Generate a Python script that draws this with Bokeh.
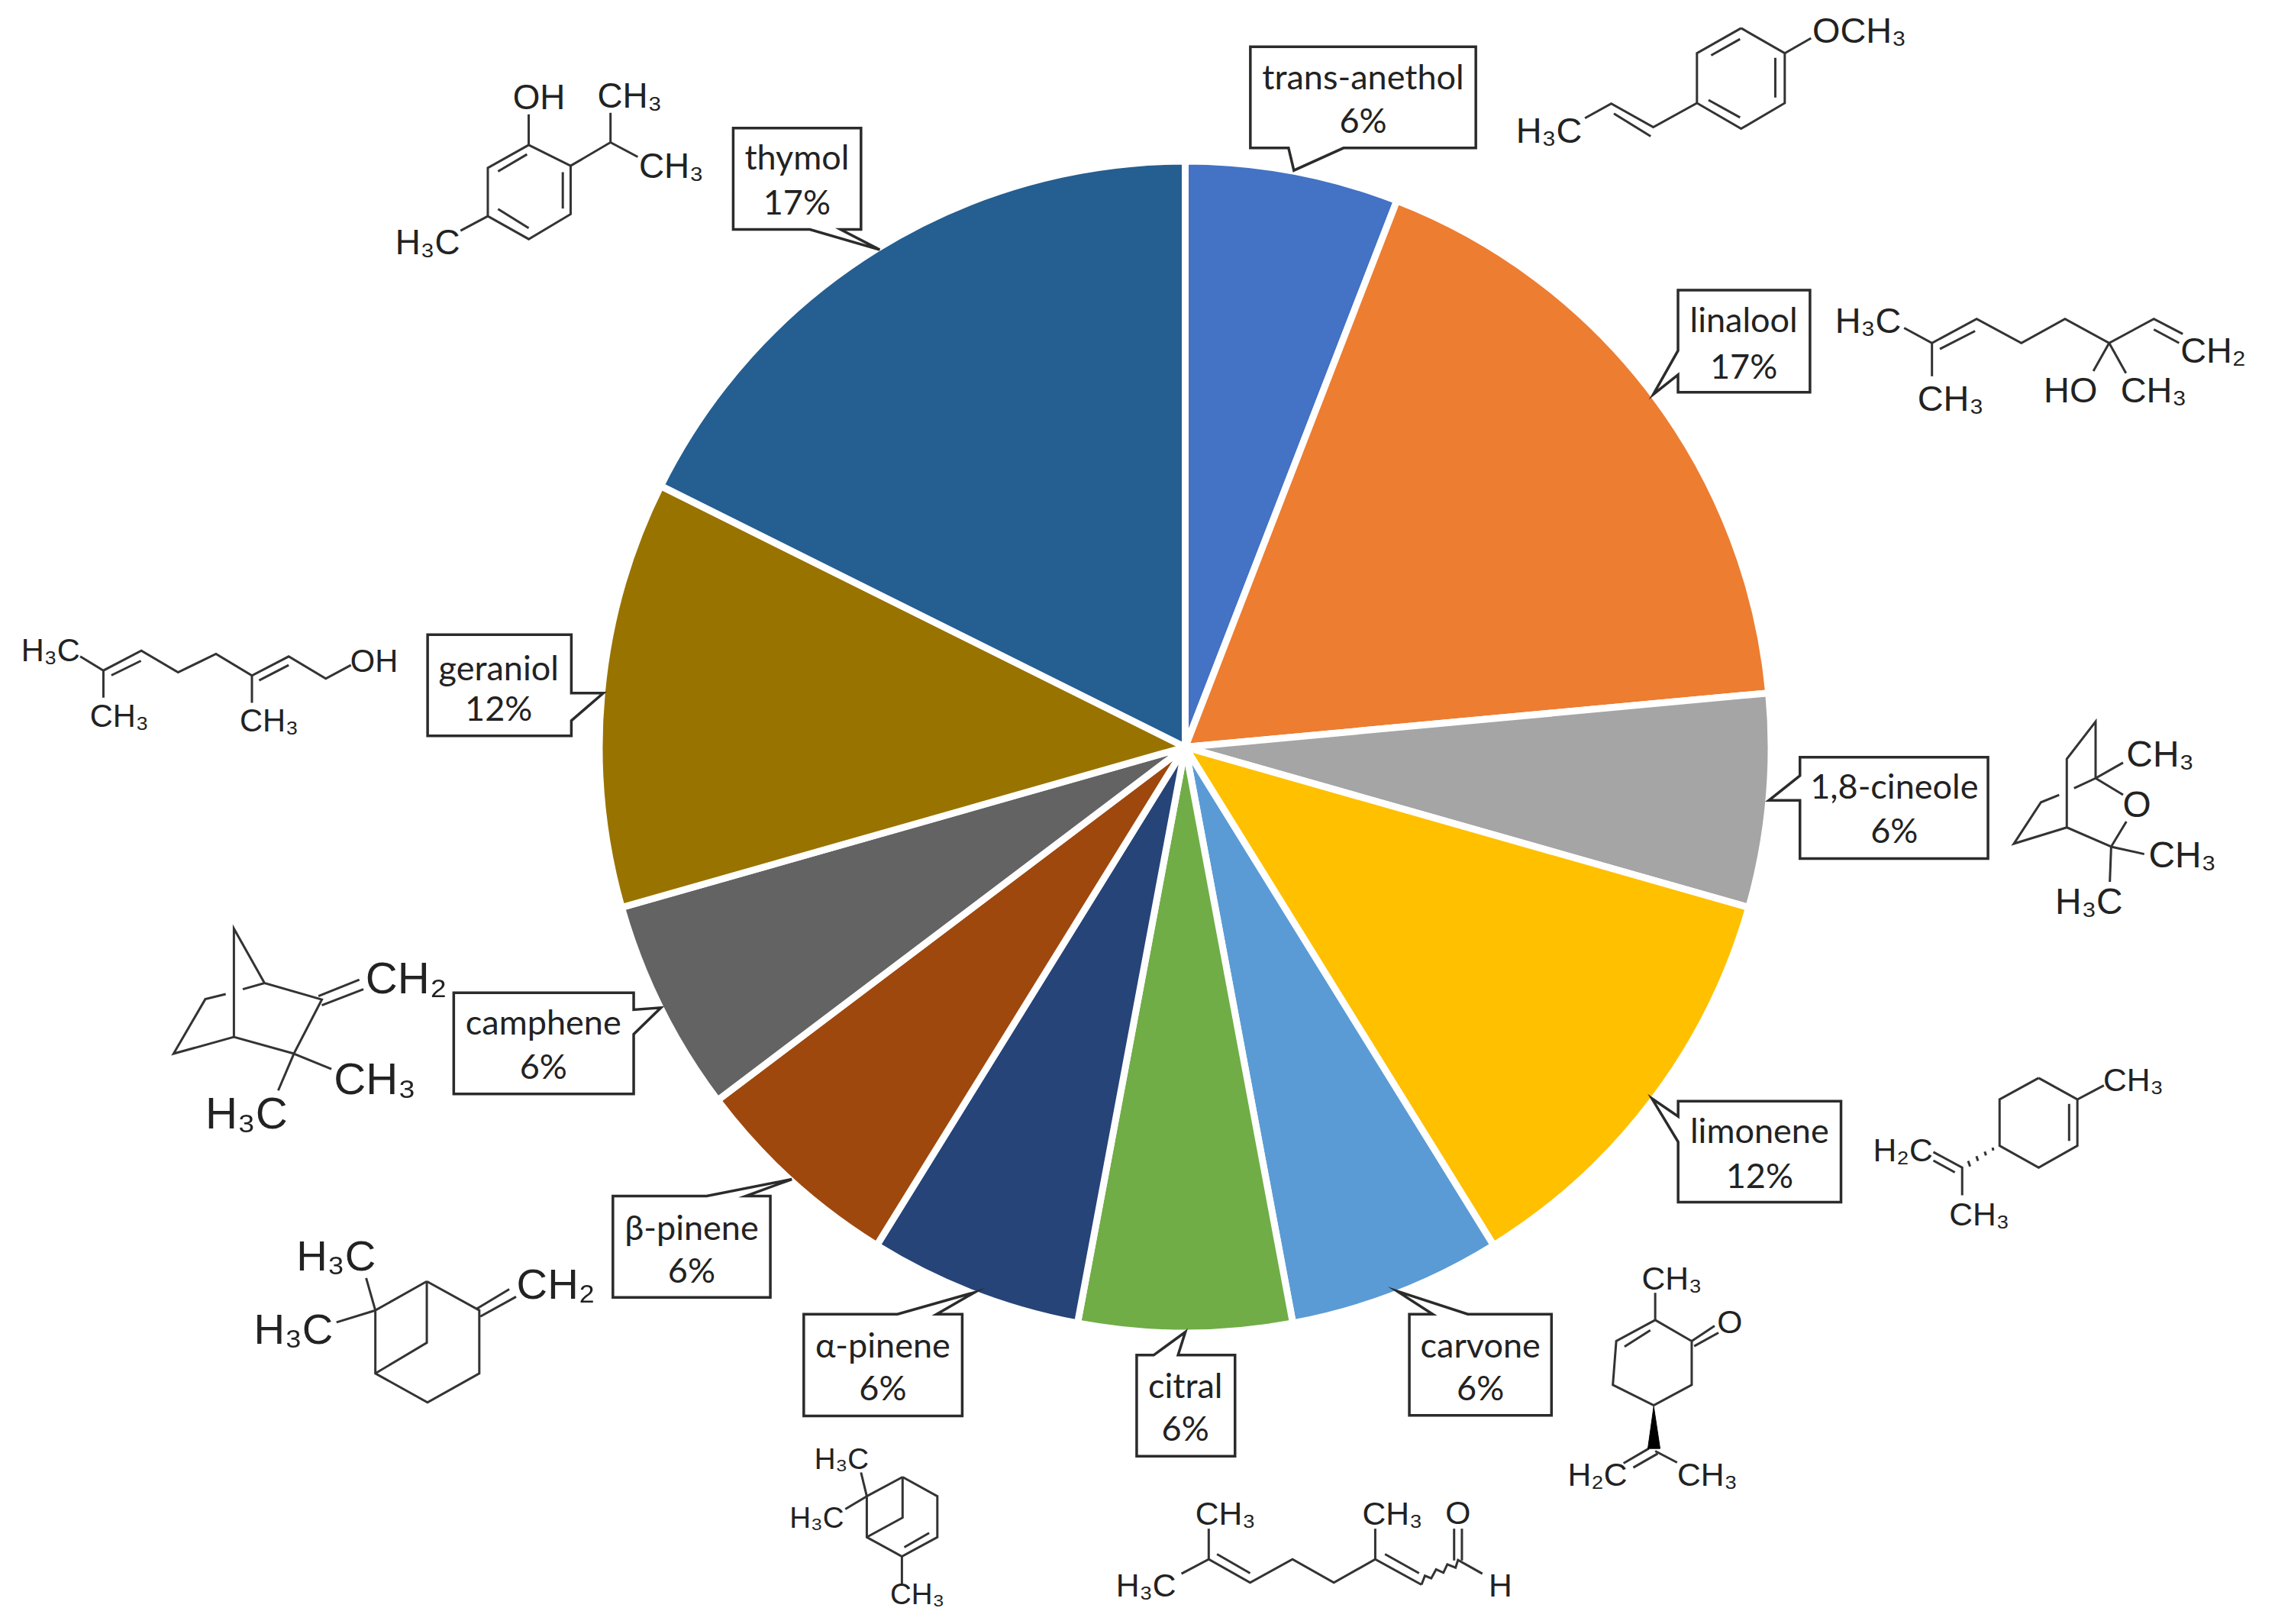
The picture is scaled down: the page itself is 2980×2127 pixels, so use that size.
from math import pi
from bokeh.plotting import figure
from bokeh.embed import file_html
from bokeh.resources import INLINE
from bokeh.models import Range1d
from bokeh.core.properties import value

# ---- chart data ----
categories = ["trans-anethol", "linalool", "1,8-cineole", "limonene", "carvone", "citral",
              "α-pinene", "β-pinene", "camphene", "geraniol", "thymol"]
shares = [1, 3, 1, 2, 1, 1, 1, 1, 1, 2, 3]
pct_labels = ["6%", "17%", "6%", "12%", "6%", "6%", "6%", "6%", "6%", "12%", "17%"]
colors = ["#4472C4", "#ED7D31", "#A5A5A5", "#FFC000", "#5B9BD5", "#70AD47",
          "#264478", "#9E480E", "#636363", "#997300", "#255E91"]

W, H = 2980, 2127
CX, CY, R = 1552, 978, 767.5
GAP = 9
LABEL_FS = 45
LABEL_UP = 2
CHEM_SCALE = 1.04
CHEM_LEFT = 3
INK = "#2b2b2b"

# ---- layout of callouts, in crop-relative measurements (origin, x scale, y scale) ----
F1 = (1900, 0, 1.452, 2.529)
F2 = (2300, 900, 2.306, 2.063)
F3 = (1380, 1620, 1.568, 3.0)
F4 = (780, 1500, 2.24, 2.5)
F5 = (180, 1180, 2.24, 2.24)
F6 = (0, 780, 1.912, 3.0)
F7 = (480, 60, 2.24, 3.0)
F8 = (1600, 40, 3.0, 3.0)
F9 = (2120, 1400, 3.0, 3.0)


def tx(f, x):
    return f[0] + x / f[2]


def ty(f, y):
    return H - (f[1] + y / f[3])


def box(x0, y0, x1, y1, side, a, tip, b):
    if side == "bottom":
        return [(x0, y0), (x1, y0), (x1, y1), b, tip, a, (x0, y1)]
    if side == "top":
        return [(x0, y0), a, tip, b, (x1, y0), (x1, y1), (x0, y1)]
    if side == "left":
        return [(x0, y0), (x1, y0), (x1, y1), (x0, y1), b, tip, a]
    return [(x0, y0), (x1, y0), a, tip, b, (x1, y1), (x0, y1)]


callouts = {
    "trans-anethol": (F8, box(112, 62, 998, 460, "bottom", (262, 460), (283, 548), (478, 460)), 555, 185, 355),
    "linalool": (F1, box(432, 960, 683, 1298, "left", (432, 1160), (385, 1305), (432, 1240)), 557, 1060, 1215),
    "1,8-cineole": (F2, box(132, 188, 700, 462, "left", (132, 238), (38, 305), (132, 305)), 417, 270, 388),
    "limonene": (F9, box(233, 125, 873, 522, "left", (233, 185), (130, 115), (233, 285)), 553, 245, 420),
    "carvone": (F3, box(730, 302, 1022, 700, "top", (778, 302), (705, 212), (850, 302)), 876, 428, 595),
    "citral": (F3, box(170, 463, 372, 860, "top", (205, 463), (270, 372), (255, 463)), 270, 585, 755),
    "α-pinene": (F4, box(610, 552, 1075, 885, "top", (885, 552), (1112, 480), (1000, 552)), 842, 655, 795),
    "β-pinene": (F4, box(50, 165, 512, 497, "top", (325, 165), (575, 110), (440, 165)), 281, 270, 410),
    "camphene": (F5, box(927, 268, 1455, 565, "right", (1455, 318), (1535, 312), (1455, 390)), 1190, 358, 488),
    "geraniol": (F6, box(1070, 152, 1430, 550, "right", (1430, 382), (1510, 382), (1430, 490)), 1248, 285, 445),
    "thymol": (F7, box(1075, 322, 1450, 720, "bottom", (1300, 720), (1505, 800), (1390, 720)), 1262, 440, 615),
}

# ---- structural formulas: polylines and atom labels ----
structures = [
    dict(f=F1, fs=45, lines=[
        [(552, 92), (635, 175), (635, 340), (552, 425), (468, 340), (468, 175), (552, 92)],
        [(550, 128), (495, 182)], [(617, 190), (617, 322)], [(550, 388), (490, 330)],
        [(635, 175), (685, 125)], [(468, 340), (385, 420), (305, 342), (255, 390)],
        [(310, 375), (380, 450)]],
        labels=[("OCH₃", 692, 100, "left"), ("H₃C", 128, 430, "left")]),
    dict(f=F1, fs=45, lines=[
        [(862, 1085), (915, 1135), (1000, 1055), (1085, 1135), (1168, 1055), (1252, 1135), (1337, 1055), (1392, 1105)],
        [(930, 1155), (997, 1095)], [(1337, 1090), (1385, 1135)], [(915, 1135), (915, 1245)],
        [(1252, 1135), (1222, 1228)], [(1252, 1135), (1284, 1235)]],
        labels=[("H₃C", 735, 1060, "left"), ("CH₂", 1392, 1160, "left"), ("CH₃", 892, 1320, "left"),
                ("HO", 1132, 1290, "left"), ("CH₃", 1278, 1290, "left")]),
    dict(f=F2, fs=46, lines=[
        [(1025, 245), (1025, 92), (938, 193), (938, 378), (1072, 430), (1118, 362)],
        [(1025, 245), (1108, 290)], [(1025, 245), (1108, 203)], [(1025, 245), (960, 272)],
        [(915, 290), (860, 310), (778, 422), (938, 378)],
        [(1072, 430), (1172, 450)], [(1072, 430), (1068, 525)]],
        labels=[("CH₃", 1125, 180, "left"), ("O", 1150, 315, "center"), ("CH₃", 1192, 452, "left"),
                ("H₃C", 910, 578, "left")]),
    dict(f=F2, fs=41, lines=[
        [(853, 1055), (970, 1113), (970, 1238), (853, 1297), (735, 1238), (735, 1113), (853, 1055)],
        [(945, 1125), (945, 1225)], [(970, 1113), (1050, 1075)],
        [(622, 1372), (622, 1297), (535, 1255)], [(600, 1310), (535, 1278)],
        [(714, 1243), (716, 1251)], [(690, 1254), (694, 1264)], [(665, 1266), (670, 1279)], [(640, 1279), (646, 1294)]],
        labels=[("CH₃", 1055, 1060, "left"), ("H₂C", 360, 1250, "left"), ("CH₃", 590, 1422, "left")]),
    dict(f=F3, fs=41, lines=[
        [(1235, 218), (1235, 325), (1310, 408), (1310, 580), (1232, 660), (1148, 580), (1155, 408), (1235, 325)],
        [(1225, 365), (1172, 430)], [(1310, 408), (1357, 348)], [(1315, 428), (1365, 375)],
        [(1235, 840), (1280, 885)], [(1222, 830), (1170, 888)], [(1240, 850), (1190, 905)]],
        wedges=[[(1232, 665), (1220, 830), (1245, 830)]],
        labels=[("CH₃", 1212, 160, "left"), ("O", 1388, 332, "center"), ("H₂C", 1060, 930, "left"),
                ("CH₃", 1285, 930, "left")]),
    dict(f=F3, fs=41, lines=[
        [(262, 1322), (318, 1265), (403, 1357), (490, 1265), (575, 1357), (660, 1265), (755, 1365)],
        [(318, 1265), (318, 1145)], [(660, 1265), (660, 1145)],
        [(335, 1245), (403, 1320)], [(680, 1245), (750, 1320)],
        [(755, 1365), (762, 1330), (775, 1340), (785, 1305), (800, 1318), (808, 1285), (825, 1298), (830, 1268), (880, 1322)],
        [(822, 1270), (822, 1145)], [(838, 1270), (838, 1145)]],
        labels=[("H₃C", 132, 1365, "left"), ("CH₃", 295, 1085, "left"), ("CH₃", 638, 1085, "left"),
                ("O", 830, 1080, "center"), ("H", 917, 1365, "center")]),
    dict(f=F4, fs=37, lines=[
        [(900, 1085), (1002, 1148), (1002, 1282), (898, 1345), (795, 1282), (795, 1148), (900, 1085)],
        [(900, 1085), (900, 1218), (795, 1282)], [(978, 1268), (905, 1315)], [(898, 1345), (898, 1435)],
        [(795, 1148), (778, 1070)], [(795, 1148), (732, 1190)]],
        labels=[("H₃C", 648, 1025, "left"), ("H₃C", 575, 1218, "left"), ("CH₃", 870, 1468, "left")]),
    dict(f=F5, fs=54, lines=[
        [(848, 1115), (1002, 1200), (1002, 1385), (850, 1470), (697, 1385), (697, 1200), (848, 1115)],
        [(848, 1115), (848, 1295), (697, 1385)], [(697, 1200), (670, 1105)], [(697, 1200), (583, 1235)],
        [(995, 1195), (1090, 1138)], [(1005, 1218), (1110, 1160)]],
        labels=[("H₃C", 472, 1040, "left"), ("H₃C", 347, 1255, "left"), ("CH₂", 1118, 1122, "left")]),
    dict(f=F5, fs=56, lines=[
        [(372, 240), (282, 80), (282, 398), (458, 447), (540, 288), (372, 240), (308, 258)],
        [(258, 272), (198, 287), (105, 447), (282, 398)],
        [(458, 447), (412, 555)], [(458, 447), (568, 492)],
        [(530, 278), (650, 230)], [(540, 305), (662, 258)]],
        labels=[("CH₂", 675, 225, "left"), ("CH₃", 582, 520, "left"), ("H₃C", 205, 620, "left")]),
    dict(f=F6, fs=40, lines=[
        [(200, 238), (258, 293), (353, 215), (445, 300), (540, 228), (630, 313), (722, 238), (815, 325), (878, 272)],
        [(258, 293), (258, 400)], [(278, 312), (352, 255)], [(648, 332), (722, 272)], [(630, 313), (630, 420)]],
        labels=[("H₃C", 58, 212, "left"), ("CH₃", 230, 470, "left"), ("CH₃", 605, 490, "left"),
                ("OH", 882, 255, "left")]),
    dict(f=F7, fs=44, lines=[
        [(475, 388), (598, 470), (598, 660), (475, 758), (355, 668), (355, 478), (475, 388)],
        [(470, 425), (385, 492)], [(575, 495), (575, 638)], [(385, 640), (475, 715)],
        [(475, 388), (475, 268)], [(598, 470), (715, 378), (715, 262)], [(715, 378), (795, 435)],
        [(355, 668), (275, 725)]],
        labels=[("OH", 435, 200, "left"), ("CH₃", 683, 195, "left"), ("CH₃", 805, 470, "left"),
                ("H₃C", 90, 770, "left")]),
]

# ---- figure in reference pixel coordinates ----
p = figure(width=W - 16, height=H - 16, x_range=Range1d(0, W - 16), y_range=Range1d(16, H),
           output_backend="svg", toolbar_location=None, min_border=0,
           x_axis_type=None, y_axis_type=None, outline_line_color=None,
           background_fill_color="white", border_fill_color="white")
p.grid.visible = False

# pie
total = sum(shares)
start, end, running = [], [], 0
for s in shares:
    start.append(pi / 2 - 2 * pi * running / total)
    running += s
    end.append(pi / 2 - 2 * pi * running / total)
p.wedge(x=CX, y=H - CY, radius=R, start_angle=start, end_angle=end, direction="clock",
        fill_color=colors, line_color="white", line_width=GAP)

# structures
xs, ys = [], []
for st in structures:
    f = st["f"]
    for ln in st["lines"]:
        xs.append([tx(f, a) for a, _ in ln])
        ys.append([ty(f, b) for _, b in ln])
p.multi_line(xs, ys, line_color="#333333", line_width=3, line_join="miter")
for st in structures:
    f = st["f"]
    for w in st.get("wedges", []):
        p.patch([tx(f, a) for a, _ in w], [ty(f, b) for _, b in w], fill_color="black", line_color="black", line_width=1)
    for text, a, b, al in st["labels"]:
        dx = CHEM_LEFT if al == "left" else 0
        p.text([tx(f, a) - dx], [ty(f, b)], text=[text], text_font=value("Liberation Sans"),
               text_font_size=f"{st['fs'] * CHEM_SCALE:.1f}px", text_color="#222222",
               text_align=al, text_baseline="middle")

# callouts
for name, pct in zip(categories, pct_labels):
    f, poly, cx, y1, y2 = callouts[name]
    p.patch([tx(f, a) for a, _ in poly], [ty(f, b) for _, b in poly], fill_color="white",
            line_color=INK, line_width=3.5, line_join="miter")
    p.text([tx(f, cx)], [ty(f, y1) + LABEL_UP], text=[name], text_font=value("Lato"),
           text_font_size=f"{LABEL_FS}px", text_color="#222222", text_align="center", text_baseline="middle")
    p.text([tx(f, cx)], [ty(f, y2) + LABEL_UP], text=[pct], text_font=value("Lato"),
           text_font_size=f"{LABEL_FS}px", text_color="#222222", text_align="center", text_baseline="middle")

open("out.html", "w").write(file_html(p, INLINE))
